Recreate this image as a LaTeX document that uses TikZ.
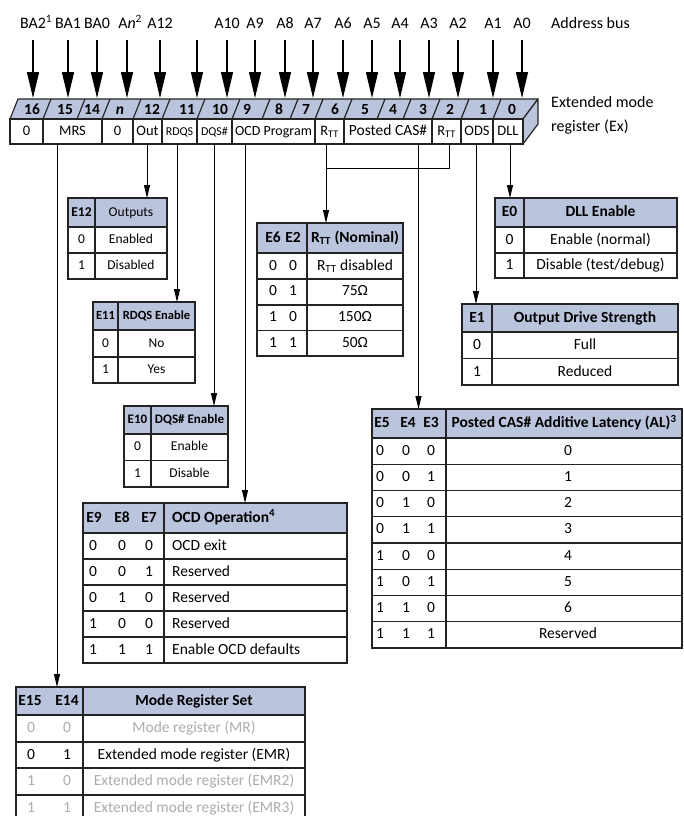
\documentclass[tikz,border=0pt]{standalone}
\usepackage{fontspec}
\setmainfont{Carlito}
\usetikzlibrary{arrows.meta,calc}
\definecolor{hdr}{RGB}{186,197,221}
\definecolor{gry}{RGB}{172,172,172}
\definecolor{ln}{RGB}{35,35,35}
\tikzset{
  lab/.style={font=\fontsize{16}{19}\selectfont, inner sep=0pt, text height=11pt, text depth=3pt},
  tx/.style={font=\fontsize{15.5}{18}\selectfont, inner sep=0pt, text height=10.5pt, text depth=2.5pt},
  tb/.style={tx, font=\fontsize{15.5}{18}\selectfont\bfseries},
  sx/.style={font=\fontsize{13.5}{16}\selectfont, inner sep=0pt, text height=9.5pt, text depth=2.5pt},
  sb/.style={sx, font=\fontsize{13.5}{16}\selectfont\bfseries},
  xb/.style={sx, font=\fontsize{12.5}{15}\selectfont\bfseries},
  bitlab/.style={font=\fontsize{15.5}{18}\selectfont\bfseries, inner sep=0pt, text height=10.5pt, text depth=1pt},
  fcell/.style={draw=ln, line width=1.2pt, fill=white, minimum height=25pt, inner sep=0pt,
    font=\fontsize{14.5}{17}\selectfont, text height=10pt, text depth=2.5pt},
  tl/.style={draw=ln, line width=1.2pt},
  tfr/.style={draw=ln, line width=1.2pt, inner sep=0pt, outer sep=0pt},
  bus/.style={draw=black, line width=1.3pt, -{Triangle[length=26pt,width=12pt]}},
  conn/.style={draw=black, line width=1pt, -{Triangle[length=13pt,width=6pt]}},
  cline/.style={draw=black, line width=1pt},
}
\newcommand\mktab[6]{%
  \fill[hdr] (#2,#3) rectangle (#4,#6);
  \draw[tl] (#2,#6) -- (#4,#6);
  \node[tfr, anchor=north west, minimum width=#4-#2, minimum height=#5-#3] (#1) at (#2,#3) {};
}
\begin{document}
\begin{tikzpicture}[x=1pt,y=-1pt]
\useasboundingbox (0,0) rectangle (683,816);

% ---------- register ----------
\filldraw[fill=hdr, draw=ln, line width=1.2pt, line join=round] (10,119) -- (18,99) -- (538,99) -- (523,119) -- cycle;
\filldraw[fill=hdr, draw=ln, line width=1.2pt, line join=round] (523,119) -- (538,99) -- (538,124) -- (523,144) -- cycle;
\foreach \x in {43,77,102,133,162,197,232,262,290,315,344,377,403,432,461,493}
  \draw[tl] (\x,119) -- (\x+8,99);
\foreach \x/\t/\n in {32/16/16,65/15/15,92/14/14,120/{\itshape n}/13,152/12/12,187/11/11,220/10/10,247/9/9,279/8/8,306/7/7,335/6/6,365/5/5,393/4/4,423/3/3,450/2/2,483/1/1,512/0/0}
  \node[bitlab] (B\n) at (\x,109.5) {\t};

\node[fcell, minimum width=33pt] (c16) at (26.5,131.5) {0};
\node[fcell, minimum width=59pt] (cMRS) at (72.5,131.5) {MRS};
\node[fcell, minimum width=31pt] (cN) at (117.5,131.5) {0};
\node[fcell, minimum width=29pt] (cOut) at (147.5,131.5) {Out};
\node[fcell, minimum width=35pt, font=\fontsize{12}{14}\selectfont] (cRDQS) at (179.5,131.5) {RDQS};
\node[fcell, minimum width=35pt, font=\fontsize{12}{14}\selectfont] (cDQS) at (214.5,131.5) {DQS\#};
\node[fcell, minimum width=83pt, font=\fontsize{14}{17}\selectfont] (cOCD) at (273.5,131.5) {OCD Program};
\node[fcell, minimum width=29pt] (cRtt6) at (329.5,131.5) {R\textsubscript{TT}};
\node[fcell, minimum width=88pt, font=\fontsize{15.5}{18}\selectfont] (cCAS) at (388,131.5) {Posted CAS\#};
\node[fcell, minimum width=29pt] (cRtt2) at (446.5,131.5) {R\textsubscript{TT}};
\node[fcell, minimum width=32pt] (cODS) at (477,131.5) {ODS};
\node[fcell, minimum width=30pt] (cDLL) at (508,131.5) {DLL};

\node[lab, anchor=west] (regA) at (551,103) {Extended mode};
\node[lab, anchor=west] (regB) at (551,127) {register (Ex)};

% ---------- address bus ----------
\coordinate (busy) at (0,40);
\coordinate (topface) at (0,98);
\node[lab, anchor=west] (abus) at (551,25) {Address bus};
\foreach \x/\n/\l in {33/16/{BA2\rlap{\textsuperscript{1}}},68/15/BA1,97/14/BA0,127/13/{A\textit{n}\rlap{\textsuperscript{2}}},160/12/A12,227/10/A10,255/9/A9,285/8/A8,313/7/A7,343/6/A6,372/5/A5,400/4/A4,429/3/A3,458/2/A2,493/1/A1,522/0/A0}{
  \node[lab] (L\n) at (\x,25) {\l};
  \draw[bus] (L\n.south |- busy) -- (L\n.south |- topface);
}
\coordinate (L11) at (197,40);
\draw[bus] (L11) -- (L11 |- topface);

% ---------- E12 ----------
\mktab{tE12}{68}{198}{167}{279}{227}
\draw[tl] (68,253) -- (167,253);
\draw[tl] (95,198) -- (95,279);
\node[sb] (h12a) at (81.5,212.5) {E12};
\node[sx] (h12b) at (131,212.5) {Outputs};
\node[sx] (r12a) at (81.5,240) {0}; \node[sx] (r12b) at (131,240) {Enabled};
\node[sx] (r12c) at (81.5,266) {1}; \node[sx] (r12d) at (131,266) {Disabled};

% ---------- E11 ----------
\mktab{tE11}{93}{302}{195}{383}{330}
\draw[tl] (93,357) -- (195,357);
\draw[tl] (118,302) -- (118,383);
\node[xb] (h11a) at (105.5,316) {E11};
\node[xb] (h11b) at (156.5,316) {RDQS Enable};
\node[sx] (r11a) at (105.5,343.5) {0}; \node[sx] (r11b) at (156.5,343.5) {No};
\node[sx] (r11c) at (105.5,370) {1}; \node[sx] (r11d) at (156.5,370) {Yes};

% ---------- E10 ----------
\mktab{tE10}{124}{406}{228}{487}{434}
\draw[tl] (124,460.5) -- (228,460.5);
\draw[tl] (151,406) -- (151,487);
\node[sb, font=\fontsize{13}{16}\selectfont\bfseries] (h10a) at (137.5,420) {E10};
\node[sb, font=\fontsize{13}{16}\selectfont\bfseries] (h10b) at (189.5,420) {DQS\# Enable};
\node[sx] (r10a) at (137.5,447) {0}; \node[sx] (r10b) at (189.5,447) {Enable};
\node[sx] (r10c) at (137.5,474) {1}; \node[sx] (r10d) at (189.5,474) {Disable};

% ---------- OCD ----------
\mktab{tOCD}{83}{503}{347}{663}{533}
\foreach \y in {559,585,611,637} \draw[tl] (83,\y) -- (347,\y);
\draw[tl] (164,503) -- (164,663);
\node[tb] (hoa) at (94,518) {E9};
\node[tb] (hob) at (122,518) {E8};
\node[tb] (hoc) at (149,518) {E7};
\node[tb, anchor=west] (hod) at (172,518) {OCD Operation\textsuperscript{4}};
\foreach \i/\a/\b/\c/\v in {0/0/0/0/OCD exit,1/0/0/1/Reserved,2/0/1/0/Reserved,3/1/0/0/Reserved,4/1/1/1/Enable OCD defaults}{
  \node[tx] (roa\i) at (93,546+26*\i) {\a};
  \node[tx] (rob\i) at (122,546+26*\i) {\b};
  \node[tx] (roc\i) at (149,546+26*\i) {\c};
  \node[tx, anchor=west] (rod\i) at (172,546+26*\i) {\v};
}

% ---------- Mode register set ----------
\mktab{tMRS}{16}{687}{305}{821}{715}
\foreach \y in {742,768,795} \draw[tl] (16,\y) -- (305,\y);
\draw[tl] (83,687) -- (83,821);
\node[tb] (hma) at (30,701) {E15};
\node[tb] (hmb) at (67,701) {E14};
\node[tb] (hmc) at (194,701) {Mode Register Set};
\foreach \i/\a/\b/\v/\c in {0/0/0/Mode register (MR)/gry,1/0/1/Extended mode register (EMR)/black,2/1/0/Extended mode register (EMR2)/gry,3/1/1/Extended mode register (EMR3)/gry}{
  \node[tx, text=\c] (rma\i) at (31,728.5+26.5*\i) {\a};
  \node[tx, text=\c] (rmb\i) at (67,728.5+26.5*\i) {\b};
  \node[tx, text=\c] (rmc\i) at (194,728.5+26.5*\i) {\v};
}

% ---------- RTT ----------
\mktab{tRtt}{257}{223}{403}{356}{253}
\foreach \y in {279,305,330.5} \draw[tl] (257,\y) -- (403,\y);
\draw[tl] (307,223) -- (307,356);
\node[tb] (hra) at (273,238) {E6};
\node[tb] (hrb) at (293,238) {E2};
\node[tb] (hrc) at (355,238) {R\textsubscript{TT} (Nominal)};
\foreach \i/\a/\b/\v in {0/0/0/{R\textsubscript{TT} disabled},1/0/1/75Ω,2/1/0/150Ω,3/1/1/50Ω}{
  \node[tx] (rra\i) at (273,266+25.7*\i) {\a};
  \node[tx] (rrb\i) at (293,266+25.7*\i) {\b};
  \node[tx] (rrc\i) at (355,266+25.7*\i) {\v};
}

% ---------- E0 ----------
\mktab{tE0}{495}{198}{677}{278}{227}
\draw[tl] (495,253) -- (677,253);
\draw[tl] (524,198) -- (524,278);
\node[tb] (h0a) at (509.5,212.5) {E0};
\node[tb] (h0b) at (600.5,212.5) {DLL Enable};
\node[tx] (r0a) at (509.5,240) {0}; \node[tx] (r0b) at (600.5,240) {Enable (normal)};
\node[tx] (r0c) at (509.5,265.5) {1}; \node[tx] (r0d) at (600.5,265.5) {Disable (test/debug)};

% ---------- E1 ----------
\mktab{tE1}{462}{304}{678}{385}{332}
\draw[tl] (462,358.5) -- (678,358.5);
\draw[tl] (492,304) -- (492,385);
\node[tb] (h1a) at (477,318) {E1};
\node[tb] (h1b) at (585,318) {Output Drive Strength};
\node[tx] (r1a) at (477,345) {0}; \node[tx] (r1b) at (585,345) {Full};
\node[tx] (r1c) at (477,372) {1}; \node[tx] (r1d) at (585,372) {Reduced};

% ---------- E5 ----------
\mktab{tE5}{372}{409}{682}{648}{438}
\foreach \k in {1,...,7} \draw[tl] (372,438+26.25*\k) -- (682,438+26.25*\k);
\draw[tl] (446,409) -- (446,648);
\node[tb] (h5a) at (382,423.5) {E5};
\node[tb] (h5b) at (408,423.5) {E4};
\node[tb] (h5c) at (431,423.5) {E3};
\node[tb] (h5d) at (561,423.5) {Posted CAS\# Additive Latency (AL)\rlap{\textsuperscript{3}}};
\foreach \i/\a/\b/\c/\v in {0/0/0/0/0,1/0/0/1/1,2/0/1/0/2,3/0/1/1/3,4/1/0/0/4,5/1/0/1/5,6/1/1/0/6,7/1/1/1/Reserved}{
  \node[tx] (r5a\i) at (380,451.1+26.25*\i) {\a};
  \node[tx] (r5b\i) at (406,451.1+26.25*\i) {\b};
  \node[tx] (r5c\i) at (431,451.1+26.25*\i) {\c};
  \node[tx] (r5d\i) at (568,451.1+26.25*\i) {\v};
}

% ---------- connectors ----------
\coordinate (xMRS) at (57,0);
\coordinate (xOut) at (147,0);
\coordinate (xRDQS) at (177,0);
\coordinate (xDQS) at (214,0);
\coordinate (xOCD) at (245,0);
\coordinate (xR6) at (326,0);
\coordinate (xR2) at (449,0);
\coordinate (xCAS) at (418.5,0);
\coordinate (xODS) at (476,0);
\coordinate (xDLL) at (510,0);
\coordinate (jy) at (0,168);
\draw[conn] (cMRS.south -| xMRS) -- (tMRS.north -| xMRS);
\draw[conn] (cOut.south -| xOut) -- (tE12.north -| xOut);
\draw[conn] (cRDQS.south -| xRDQS) -- (tE11.north -| xRDQS);
\draw[conn] (cDQS.south -| xDQS) -- (tE10.north -| xDQS);
\draw[conn] (cOCD.south -| xOCD) -- (tOCD.north -| xOCD);
\draw[conn] (cRtt6.south -| xR6) -- (tRtt.north -| xR6);
\draw[cline] (cRtt2.south -| xR2) |- (xR6 |- jy);
\draw[conn] (cCAS.south -| xCAS) -- (tE5.north -| xCAS);
\draw[conn] (cODS.south -| xODS) -- (tE1.north -| xODS);
\draw[conn] (cDLL.south -| xDLL) -- (tE0.north -| xDLL);
\end{tikzpicture}
\end{document}
